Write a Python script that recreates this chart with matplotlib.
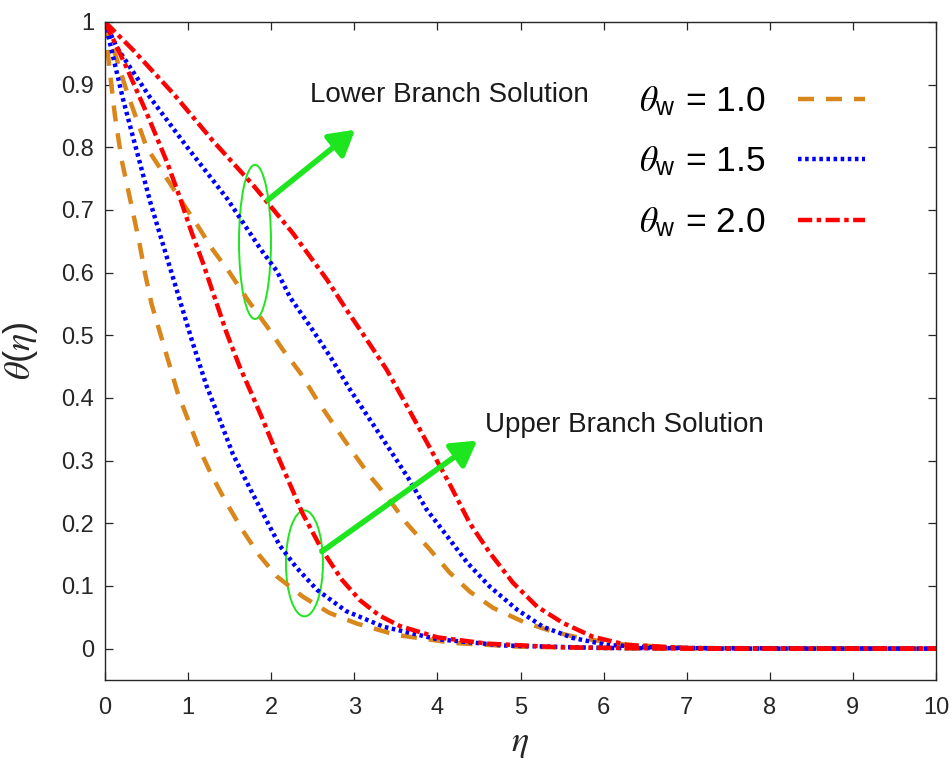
import matplotlib
matplotlib.use('Agg')
import matplotlib.pyplot as plt
from matplotlib.patches import Ellipse

plt.rcParams['font.family'] = ['Liberation Sans', 'DejaVu Sans']
plt.rcParams['mathtext.fontset'] = 'custom'
plt.rcParams['mathtext.it'] = 'STIXGeneral:italic'
plt.rcParams['mathtext.rm'] = 'Liberation Sans'

# temperature profiles theta(eta), lower and upper branch for each theta_w
eta_o_low = [0, 0.26, 0.5, 0.94, 1.09, 1.3, 1.5, 1.72, 1.95, 2.14, 2.35, 2.55, 2.77, 2.99, 3.19,
             3.39, 3.63, 3.91, 4.15, 4.39, 4.67, 5.03, 5.39, 5.72, 6.2, 7, 10]
th_o_low = [1, 0.89, 0.80, 0.71, 0.68, 0.636, 0.60, 0.556, 0.514, 0.477, 0.44, 0.397, 0.354, 0.312, 0.275,
            0.243, 0.20, 0.158, 0.121, 0.091, 0.065, 0.043, 0.027, 0.017, 0.007, 0.001, 0]
eta_o_up = [0, 0.05, 0.12, 0.2, 0.33, 0.41, 0.48, 0.56, 0.66, 0.76, 0.87, 1.0, 1.13, 1.29, 1.46,
            1.65, 1.85, 2.07, 2.38, 2.7, 3.03, 3.5, 4.2, 5, 6.5, 10]
th_o_up = [1, 0.93, 0.85, 0.78, 0.70, 0.65, 0.60, 0.55, 0.505, 0.46, 0.41, 0.365, 0.32, 0.275, 0.233,
           0.19, 0.15, 0.115, 0.083, 0.057, 0.04, 0.022, 0.009, 0.003, 0, 0]

eta_b_low = [0, 0.14, 0.54, 0.99, 1.47, 1.87, 2.07, 2.23, 2.47, 2.71, 2.95, 3.19, 3.43, 3.65, 3.87,
             4.12, 4.36, 4.63, 4.96, 5.27, 5.63, 6.04, 6.6, 7.5, 10]
th_b_low = [1, 0.96, 0.88, 0.80, 0.718, 0.638, 0.602, 0.56, 0.514, 0.466, 0.413, 0.365, 0.317, 0.272, 0.222,
            0.179, 0.137, 0.099, 0.062, 0.035, 0.017, 0.006, 0.002, 0, 0]
eta_b_up = [0, 0.22, 0.55, 0.8, 1.05, 1.22, 1.35, 1.54, 1.75, 1.95, 2.1, 2.3, 2.55, 2.9, 3.35,
            4.0, 4.8, 6, 10]
th_b_up = [1, 0.875, 0.71, 0.60, 0.49, 0.42, 0.376, 0.31, 0.254, 0.203, 0.165, 0.13, 0.094, 0.06, 0.035,
           0.015, 0.005, 0.001, 0]

eta_r_low = [0, 0.34, 0.82, 1.3, 1.78, 2.26, 2.67, 2.91, 3.15, 3.39, 3.63, 3.87, 4.15, 4.39, 4.63,
             4.91, 5.2, 5.51, 5.87, 6.28, 7, 8, 10]
th_r_low = [1, 0.955, 0.886, 0.81, 0.74, 0.663, 0.589, 0.54, 0.493, 0.445, 0.388, 0.33, 0.262, 0.20, 0.153,
            0.105, 0.067, 0.041, 0.019, 0.006, 0.001, 0, 0]
eta_r_up = [0, 0.25, 0.5, 0.75, 0.9, 1.04, 1.18, 1.32, 1.46, 1.62, 1.77, 1.9, 2.07, 2.38, 2.61,
            2.85, 3.07, 3.3, 3.55, 4.0, 4.6, 5.5, 7, 10]
th_r_up = [1, 0.93, 0.855, 0.775, 0.72, 0.665, 0.615, 0.56, 0.505, 0.45, 0.405, 0.365, 0.31, 0.215, 0.158,
           0.11, 0.077, 0.053, 0.036, 0.018, 0.008, 0.002, 0, 0]

labels = [r'$\theta_{\mathrm{w}}$ = 1.0', r'$\theta_{\mathrm{w}}$ = 1.5', r'$\theta_{\mathrm{w}}$ = 2.0']
xticks = list(range(11))
yticks = [0, 0.1, 0.2, 0.3, 0.4, 0.5, 0.6, 0.7, 0.8, 0.9, 1]
ytick_labels = ['0', '0.1', '0.2', '0.3', '0.4', '0.5', '0.6', '0.7', '0.8', '0.9', '1']

orange = '#D9861A'
blue = '#0000FF'
red = '#FF0000'
green = '#1EE61E'
dark = '#262626'
lw = 3.2
dash_o = (3.6, 2.7)
dash_b = (0.8, 0.8)
dash_r = (3.2, 1.0, 1.0, 1.0)

fig = plt.figure(figsize=(9.52, 7.6), dpi=100)
ax = fig.add_axes([0.1103, 0.1053, 0.8729, 0.8658])

h1, = ax.plot(eta_o_low, th_o_low, color=orange, lw=lw, dashes=dash_o, label=labels[0])
ax.plot(eta_o_up, th_o_up, color=orange, lw=lw, dashes=dash_o)
h2, = ax.plot(eta_b_low, th_b_low, color=blue, lw=lw, dashes=dash_b, label=labels[1])
ax.plot(eta_b_up, th_b_up, color=blue, lw=lw, dashes=dash_b)
h3, = ax.plot(eta_r_low, th_r_low, color=red, lw=lw, dashes=dash_r, label=labels[2])
ax.plot(eta_r_up, th_r_up, color=red, lw=lw, dashes=dash_r)

ax.set_xlim(0, 10)
ax.set_ylim(-0.05, 1)
ax.set_xticks(xticks)
ax.set_xticklabels([str(t) for t in xticks])
ax.set_yticks(yticks)
ax.set_yticklabels(ytick_labels)
ax.tick_params(direction='in', length=6, width=0.9, top=True, right=True,
               labelsize=17, color=dark, labelcolor=dark)
ax.tick_params(axis='x', pad=12)
ax.tick_params(axis='y', pad=8)
for s in ax.spines.values():
    s.set_color(dark)
    s.set_linewidth(1.0)

ax.set_xlabel(r'$\eta$', fontsize=26, color=dark)
ax.set_ylabel(r'$\theta(\eta)$', fontsize=26, color=dark)
ax.xaxis.set_label_coords(0.499, -0.068)
ax.yaxis.set_label_coords(-0.078, 0.5)

# branch markers
ax.add_patch(Ellipse((1.805, 0.649), 0.385, 0.246, fill=False, ec=green, lw=1.4))
ax.add_patch(Ellipse((2.40, 0.136), 0.445, 0.169, fill=False, ec=green, lw=1.4))
arrow = dict(arrowstyle='-|>,head_length=0.6,head_width=0.35', color=green, lw=4,
             mutation_scale=25, shrinkA=0, shrinkB=0)
ax.annotate('', xy=(3.01, 0.828), xytext=(1.96, 0.716), arrowprops=arrow)
ax.annotate('', xy=(4.48, 0.332), xytext=(2.61, 0.155), arrowprops=arrow)
ax.text(2.47, 0.884, 'Lower Branch Solution', fontsize=20, va='center', color='#1a1a1a')
ax.text(4.57, 0.357, 'Upper Branch Solution', fontsize=20, va='center', color='#1a1a1a')

ax.legend(handles=[h1, h2, h3], loc='upper right', bbox_to_anchor=(0.9146, 0.905),
          frameon=False, markerfirst=False, fontsize=25.5, handlelength=1.9,
          handletextpad=0.9, labelspacing=0.75, borderpad=0, borderaxespad=0)

fig.savefig('out.png', dpi=100)
